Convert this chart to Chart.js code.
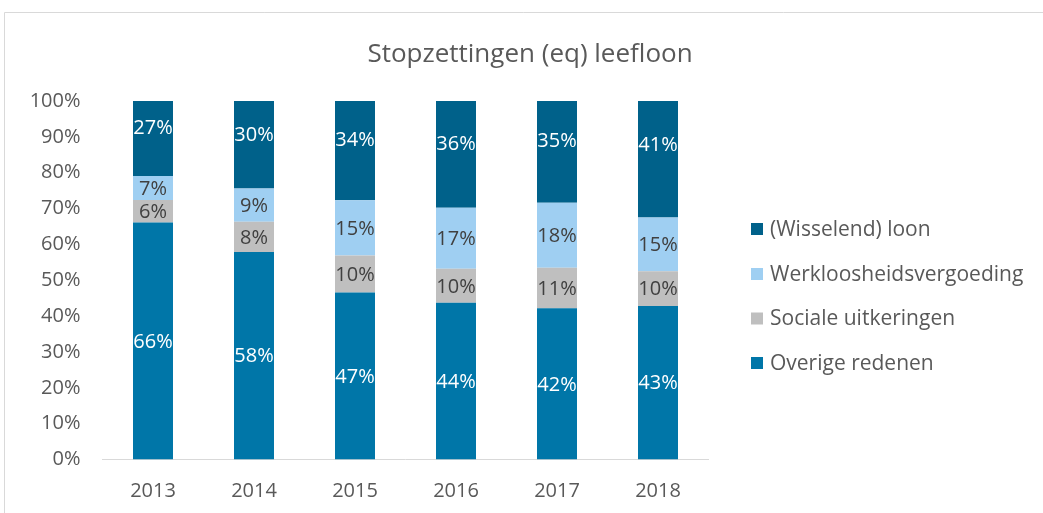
<!DOCTYPE html>
<html>
<head>
<meta charset="utf-8">
<script src="https://cdn.jsdelivr.net/npm/chart.js@4.4.1/dist/chart.umd.min.js"></script>
<style>
  html, body { margin: 0; padding: 0; background: #ffffff; }
  #wrap { position: relative; width: 1043px; height: 513px; }
</style>
</head>
<body>
<div id="wrap"><canvas id="c" width="1043" height="513"></canvas></div>
<script>
// ---- data ----
const title = 'Stopzettingen (eq) leefloon';
const years = ['2013', '2014', '2015', '2016', '2017', '2018'];
const seriesNames = ['Overige redenen', 'Sociale uitkeringen', 'Werkloosheidsvergoeding', '(Wisselend) loon'];
const overige  = [66.1, 57.9, 46.6, 43.7, 42.2, 42.8];
const sociale  = [6.3, 8.4, 10.3, 9.5, 11.3, 9.7];
const werkloos = [6.7, 9.3, 15.4, 17.0, 18.1, 15.0];
const loon     = [27, 30, 34, 36, 35, 41];
const yTicks   = [0, 10, 20, 30, 40, 50, 60, 70, 80, 90, 100];

// ---- styles ----
const FONT = '"Open Sans", "Noto Sans", sans-serif';
const TEXT = '#595959';
const colors = ['#0076A8', '#BFBFBF', '#9FCFF2', '#00618A'];
const labelColors = ['#ffffff', '#404040', '#404040', '#ffffff'];

const frame = {
  id: 'frame',
  beforeDraw(chart) {
    const ctx = chart.ctx;
    ctx.save();
    ctx.fillStyle = '#ffffff';
    ctx.fillRect(0, 0, chart.width, chart.height);
    ctx.strokeStyle = '#d9d9d9';
    ctx.lineWidth = 1;
    ctx.beginPath();
    ctx.moveTo(4.5, chart.height);
    ctx.lineTo(4.5, 12.5);
    ctx.lineTo(chart.width, 12.5);
    ctx.stroke();
    // title
    ctx.fillStyle = TEXT;
    ctx.font = '26px ' + FONT;
    ctx.textAlign = 'center';
    ctx.textBaseline = 'alphabetic';
    ctx.fillText(title, 530, 62);
    ctx.restore();
  }
};

const barLabels = {
  id: 'barLabels',
  afterDatasetsDraw(chart) {
    const ctx = chart.ctx;
    ctx.save();
    ctx.font = '20px ' + FONT;
    ctx.textAlign = 'center';
    ctx.textBaseline = 'middle';
    chart.data.datasets.forEach((ds, di) => {
      const meta = chart.getDatasetMeta(di);
      meta.data.forEach((el, i) => {
        const p = el.getProps(['x', 'y', 'base'], true);
        ctx.fillStyle = labelColors[di];
        ctx.fillText(Math.round(ds.data[i]) + '%', p.x, (p.y + p.base) / 2 + 1);
      });
    });
    ctx.restore();
  }
};

const legendPlugin = {
  id: 'customLegend',
  afterDraw(chart) {
    const ctx = chart.ctx;
    ctx.save();
    ctx.font = '21px ' + FONT;
    ctx.textAlign = 'left';
    ctx.textBaseline = 'middle';
    const rows = [229, 274, 318.5, 363];
    const order = chart.data.datasets.map((d, i) => i).reverse();
    order.forEach((di, r) => {
      const ds = chart.data.datasets[di];
      ctx.fillStyle = ds.backgroundColor;
      ctx.fillRect(751, rows[r] - 6, 12, 12);
      ctx.fillStyle = TEXT;
      ctx.fillText(ds.label, 770, rows[r] + 1);
    });
    ctx.restore();
  }
};

const seriesData = [overige, sociale, werkloos, loon];

new Chart(document.getElementById('c'), {
  type: 'bar',
  data: {
    labels: years,
    datasets: seriesData.map((d, i) => ({
      label: seriesNames[i],
      data: d,
      backgroundColor: colors[i],
      borderWidth: 0,
      categoryPercentage: 1,
      barPercentage: 0.396
    }))
  },
  options: {
    responsive: false,
    animation: false,
    devicePixelRatio: 1,
    layout: { padding: { top: 101, left: 0, right: 334.5, bottom: 0 } },
    plugins: {
      legend: { display: false },
      title: { display: false },
      tooltip: { enabled: false }
    },
    scales: {
      x: {
        stacked: true,
        grid: { display: false, drawTicks: false },
        border: { display: true, color: '#d9d9d9', width: 1 },
        ticks: { color: TEXT, font: { family: FONT, size: 20 }, padding: 20 },
        afterFit(scale) { scale.height = 53.5; }
      },
      y: {
        stacked: true,
        min: 0,
        max: 100,
        grid: { display: false, drawTicks: false },
        border: { display: false },
        afterBuildTicks(scale) { scale.ticks = yTicks.map(v => ({ value: v })); },
        ticks: {
          color: TEXT,
          font: { family: FONT, size: 20 },
          padding: 22,
          callback: v => v + '%'
        },
        afterFit(scale) { scale.width = 102.5; }
      }
    }
  },
  plugins: [frame, barLabels, legendPlugin]
});
</script>
</body>
</html>
